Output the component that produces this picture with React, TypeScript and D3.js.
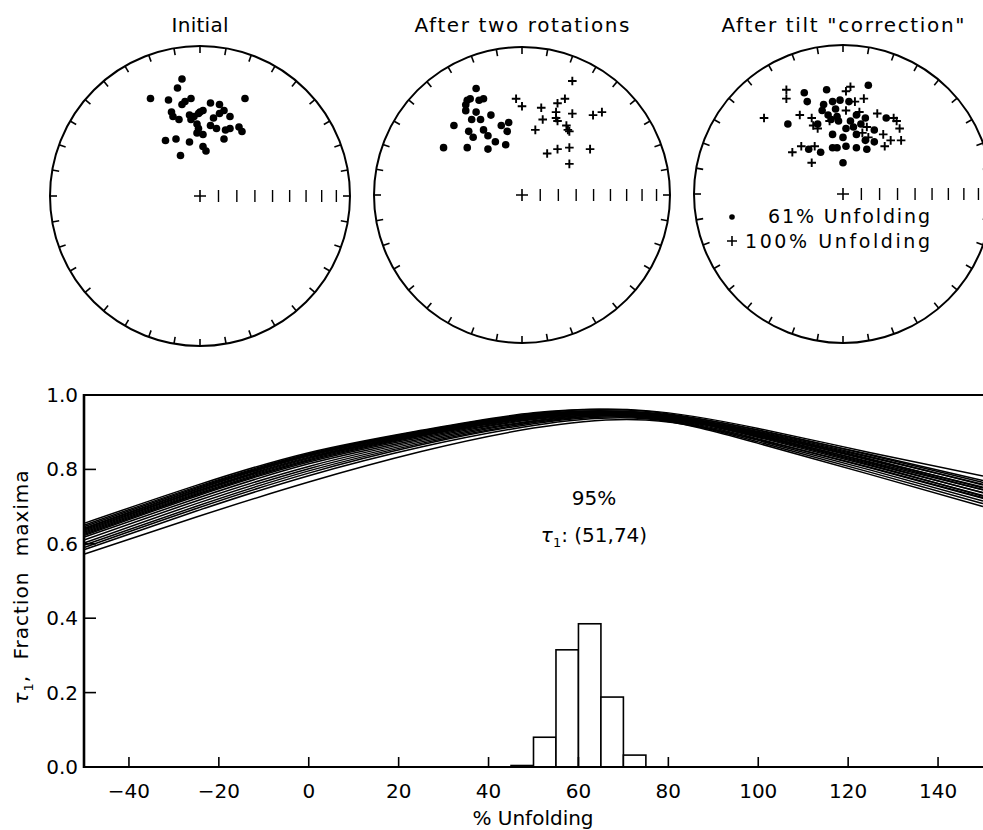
import React from "react";
import * as d3 from "d3";

const W = 983;
const H = 830;

// tau1 fraction maxima, sampled at these % unfolding steps (one row per bootstrap curve)
const unfoldSteps = [-50, -25, 0, 25, 50, 75, 100, 125, 150];
const tauCurves = [
  [0.655, 0.757, 0.845, 0.905, 0.952, 0.956, 0.905, 0.84, 0.77],
  [0.65, 0.753, 0.842, 0.903, 0.95, 0.958, 0.91, 0.845, 0.782],
  [0.646, 0.75, 0.84, 0.902, 0.948, 0.952, 0.9, 0.832, 0.76],
  [0.642, 0.747, 0.838, 0.9, 0.947, 0.95, 0.897, 0.826, 0.752],
  [0.64, 0.745, 0.836, 0.899, 0.946, 0.953, 0.906, 0.838, 0.765],
  [0.637, 0.742, 0.833, 0.897, 0.944, 0.948, 0.893, 0.82, 0.745],
  [0.634, 0.74, 0.831, 0.895, 0.943, 0.951, 0.902, 0.834, 0.758],
  [0.631, 0.737, 0.829, 0.893, 0.941, 0.946, 0.89, 0.815, 0.738],
  [0.628, 0.734, 0.826, 0.891, 0.94, 0.949, 0.899, 0.828, 0.75],
  [0.625, 0.731, 0.823, 0.889, 0.938, 0.944, 0.886, 0.81, 0.73],
  [0.622, 0.728, 0.82, 0.886, 0.936, 0.947, 0.895, 0.824, 0.745],
  [0.618, 0.722, 0.815, 0.882, 0.934, 0.942, 0.882, 0.804, 0.722],
  [0.61, 0.715, 0.808, 0.878, 0.931, 0.945, 0.892, 0.818, 0.737],
  [0.602, 0.708, 0.802, 0.874, 0.929, 0.94, 0.878, 0.798, 0.715],
  [0.596, 0.701, 0.796, 0.87, 0.926, 0.943, 0.888, 0.812, 0.728],
  [0.59, 0.695, 0.79, 0.866, 0.923, 0.938, 0.874, 0.792, 0.708],
  [0.584, 0.688, 0.783, 0.86, 0.918, 0.936, 0.87, 0.786, 0.7],
  [0.572, 0.672, 0.766, 0.848, 0.911, 0.933, 0.88, 0.805, 0.724],
];

// histogram of the % unfolding giving the tau1 maximum
const binEdges = [45, 50, 55, 60, 65, 70, 75];
const binFractions = [0.004, 0.08, 0.315, 0.385, 0.188, 0.032];

const xTicks = [-40, -20, 0, 20, 40, 60, 80, 100, 120, 140];
const yTicks = [0.2, 0.4, 0.6, 0.8];
const yLabels = [0, 0.2, 0.4, 0.6, 0.8, 1.0];

// stereonet points, [east, north] in net radii
const initialDots = [
  [-0.12, 0.78], [-0.15, 0.72], [-0.33, 0.65], [-0.21, 0.64], [-0.06, 0.65],
  [-0.1, 0.63], [-0.12, 0.61], [0.3, 0.65], [0.07, 0.62], [0.13, 0.61],
  [0.16, 0.57], [-0.19, 0.56], [-0.18, 0.53], [-0.14, 0.51], [-0.07, 0.54],
  [0.0, 0.56], [0.02, 0.57], [0.13, 0.55], [0.2, 0.53], [-0.06, 0.51],
  [-0.02, 0.48], [0.09, 0.52], [0.07, 0.47], [-0.01, 0.45], [0.11, 0.45],
  [0.17, 0.44], [0.2, 0.45], [0.26, 0.46], [0.28, 0.43], [-0.02, 0.42],
  [0.02, 0.41], [-0.23, 0.37], [-0.16, 0.38], [-0.07, 0.36], [0.16, 0.38],
  [0.02, 0.33], [0.04, 0.3], [-0.13, 0.27], [-0.04, 0.53], [-0.01, 0.55],
];
const rotatedDots = [
  [-0.31, 0.72], [-0.37, 0.64], [-0.38, 0.61], [-0.38, 0.57], [-0.35, 0.65],
  [-0.29, 0.64], [-0.26, 0.65], [-0.31, 0.56], [-0.34, 0.51], [-0.28, 0.51],
  [-0.21, 0.54], [-0.46, 0.47], [-0.36, 0.43], [-0.33, 0.39], [-0.26, 0.44],
  [-0.23, 0.4], [-0.18, 0.36], [-0.14, 0.47], [-0.09, 0.49], [-0.1, 0.43],
  [-0.11, 0.34], [-0.23, 0.31], [-0.37, 0.32], [-0.53, 0.32],
];
const rotatedCrosses = [
  [0.34, 0.77], [-0.04, 0.65], [0.0, 0.6], [0.13, 0.59], [0.24, 0.62],
  [0.29, 0.65], [0.23, 0.56], [0.34, 0.55], [0.48, 0.54], [0.54, 0.56],
  [0.14, 0.51], [0.24, 0.5], [0.3, 0.47], [0.09, 0.44], [0.31, 0.44],
  [0.32, 0.43], [0.17, 0.28], [0.24, 0.31], [0.32, 0.32], [0.46, 0.31],
  [0.32, 0.21], [0.23, 0.52],
];
const tiltDots = [
  [-0.26, 0.68], [-0.11, 0.7], [0.17, 0.73], [-0.24, 0.62], [-0.13, 0.6],
  [-0.14, 0.56], [-0.02, 0.63], [-0.07, 0.62], [0.04, 0.62], [-0.04, 0.52],
  [-0.1, 0.53], [-0.37, 0.47], [0.02, 0.44], [-0.03, 0.49], [0.09, 0.53],
  [0.15, 0.51], [0.21, 0.43], [0.29, 0.51], [-0.07, 0.4], [0.0, 0.38],
  [0.09, 0.4], [0.15, 0.36], [0.21, 0.35], [-0.23, 0.3], [-0.15, 0.28],
  [-0.07, 0.31], [-0.04, 0.31], [0.02, 0.32], [0.09, 0.31], [0.16, 0.3],
  [0.0, 0.21], [-0.17, 0.47], [0.05, 0.49], [-0.05, 0.57], [-0.08, 0.5],
  [0.07, 0.45], [0.12, 0.47],
];
const tiltCrosses = [
  [-0.38, 0.7], [-0.38, 0.64], [-0.53, 0.51], [-0.29, 0.53], [-0.21, 0.51],
  [0.05, 0.72], [0.02, 0.69], [0.14, 0.64], [0.08, 0.62], [-0.2, 0.46],
  [-0.17, 0.44], [0.11, 0.55], [0.23, 0.54], [0.34, 0.51], [0.36, 0.49],
  [0.38, 0.44], [0.27, 0.4], [0.32, 0.36], [0.39, 0.36], [0.28, 0.32],
  [0.13, 0.41], [0.17, 0.38], [-0.34, 0.28], [-0.28, 0.32], [-0.19, 0.32],
  [-0.21, 0.21], [0.02, 0.56], [-0.09, 0.49], [0.16, 0.45],
];

const azimuthTicks = d3.range(0, 360, 10);
const radialIncs = [80, 70, 60, 50, 40, 30, 20, 10];

const FONT = "'DejaVu Sans', sans-serif";

function crossPath(x: number, y: number, s: number) {
  return `M${x - s},${y}h${2 * s}M${x},${y - s}v${2 * s}`;
}

function Net({ cx, cy, r, title, titleLen, dots, crosses, legend }: any) {
  const sx = d3.scaleLinear().domain([-1, 1]).range([cx - r, cx + r]);
  const sy = d3.scaleLinear().domain([-1, 1]).range([cy + r, cy - r]);
  const proj = d3
    .geoAzimuthalEqualArea()
    .rotate([0, -90])
    .scale(r / Math.SQRT2)
    .translate([cx, cy]);
  const radial = radialIncs.map((inc) => {
    const p = proj([0, inc]) as [number, number];
    return Math.hypot(p[0] - cx, p[1] - cy);
  });
  return (
    <g>
      <text x={cx} y={32} textAnchor="middle" fontSize={20} fontFamily={FONT}
        textLength={titleLen} lengthAdjust="spacing">{title}</text>
      <circle cx={cx} cy={cy} r={r} fill="none" stroke="#000" strokeWidth={2} />
      {azimuthTicks.map((az) => {
        const a = (az * Math.PI) / 180;
        return (
          <line key={az}
            x1={cx + r * Math.sin(a)} y1={cy - r * Math.cos(a)}
            x2={cx + (r - 7) * Math.sin(a)} y2={cy - (r - 7) * Math.cos(a)}
            stroke="#000" strokeWidth={1.6} />
        );
      })}
      <path d={crossPath(cx, cy, 6)} stroke="#000" strokeWidth={1.6} />
      {radial.map((d, i) => (
        <line key={i} x1={cx + d} x2={cx + d} y1={cy - 6} y2={cy + 6} stroke="#000" strokeWidth={1.4} />
      ))}
      {dots.map((p: number[], i: number) => (
        <circle key={"d" + i} cx={sx(p[0])} cy={sy(p[1])} r={3.8} fill="#000" />
      ))}
      {crosses.map((p: number[], i: number) => (
        <path key={"c" + i} d={crossPath(sx(p[0]), sy(p[1]), 4.3)} stroke="#000" strokeWidth={1.9} />
      ))}
      {legend && (
        <g fontFamily={FONT} fontSize={19}>
          <circle cx={cx - 111} cy={cy + 23} r={2.8} fill="#000" />
          <text x={cx - 75} y={cy + 29} textLength={162} lengthAdjust="spacing">61% Unfolding</text>
          <path d={crossPath(cx - 111, cy + 47, 5)} stroke="#000" strokeWidth={1.6} />
          <text x={cx - 98} y={cy + 54} textLength={185} lengthAdjust="spacing">100% Unfolding</text>
        </g>
      )}
    </g>
  );
}

export default function App() {
  const x = d3.scaleLinear().domain([-50, 150]).range([84, 983]);
  const y = d3.scaleLinear().domain([0, 1]).range([767, 395]);

  const line = d3
    .line<number>()
    .x((_, i) => x(unfoldSteps[i]))
    .y((d) => y(d))
    .curve(d3.curveNatural);

  const bins = binFractions.map((f, i) => ({ x0: binEdges[i], x1: binEdges[i + 1], f }));

  return (
    <svg width={W} height={H} style={{ position: "absolute", left: 0, top: 0, background: "#fff" }}>
      <rect width={W} height={H} fill="#fff" />

      <Net cx={200} cy={196} r={150} title="Initial" titleLen={57} dots={initialDots} crosses={[]} />
      <Net cx={522} cy={195} r={148} title="After two rotations" titleLen={215}
        dots={rotatedDots} crosses={rotatedCrosses} />
      <Net cx={843} cy={194} r={149} title={'After tilt "correction"'} titleLen={243}
        dots={tiltDots} crosses={tiltCrosses} legend />

      {/* bootstrap tau1 curves */}
      <g fill="none" stroke="#000" strokeWidth={1.5}>
        {tauCurves.map((c, i) => (
          <path key={i} d={line(c) || ""} />
        ))}
      </g>

      {/* histogram */}
      <g fill="#fff" stroke="#000" strokeWidth={1.6}>
        {bins.map((b, i) => (
          <rect key={i} x={x(b.x0)} y={y(b.f)} width={x(b.x1) - x(b.x0)} height={y(0) - y(b.f)} />
        ))}
      </g>

      {/* frame and axes */}
      <line x1={x(-50)} x2={x(150)} y1={y(1)} y2={y(1)} stroke="#000" strokeWidth={2.2} />
      <line x1={x(-50)} x2={x(150)} y1={y(0)} y2={y(0)} stroke="#000" strokeWidth={2} />
      <line x1={x(-50)} x2={x(-50)} y1={y(1) - 1} y2={y(0) + 1} stroke="#000" strokeWidth={2.6} />
      {yTicks.map((t) => (
        <line key={t} x1={x(-50)} x2={x(-50) + 12} y1={y(t)} y2={y(t)} stroke="#000" strokeWidth={1.6} />
      ))}
      {xTicks.map((t) => (
        <line key={t} x1={x(t)} x2={x(t)} y1={y(0)} y2={y(0) - 10} stroke="#000" strokeWidth={1.6} />
      ))}

      <g fontFamily={FONT} fontSize={20} fill="#000">
        {yLabels.map((t) => (
          <text key={t} x={x(-50) - 6} y={y(t) + 7} textAnchor="end">{t.toFixed(1)}</text>
        ))}
        {xTicks.map((t) => (
          <text key={t} x={x(t)} y={798} textAnchor="middle">{t < 0 ? "\u2212" + Math.abs(t) : t}</text>
        ))}
        <text x={533} y={825} textAnchor="middle">% Unfolding</text>
        <text transform="translate(28,587) rotate(-90)" textAnchor="middle" letterSpacing={1} wordSpacing={8}>
          <tspan fontStyle="italic">τ</tspan>
          <tspan fontSize={13} dy={5}>1</tspan>
          <tspan dy={-5}>, Fraction maxima</tspan>
        </text>
        <text x={594} y={505} textAnchor="middle">95%</text>
        <text x={594} y={542} textAnchor="middle">
          <tspan fontStyle="italic">τ</tspan>
          <tspan fontSize={13} dy={5}>1</tspan>
          <tspan dy={-5}>: (51,74)</tspan>
        </text>
      </g>
    </svg>
  );
}
